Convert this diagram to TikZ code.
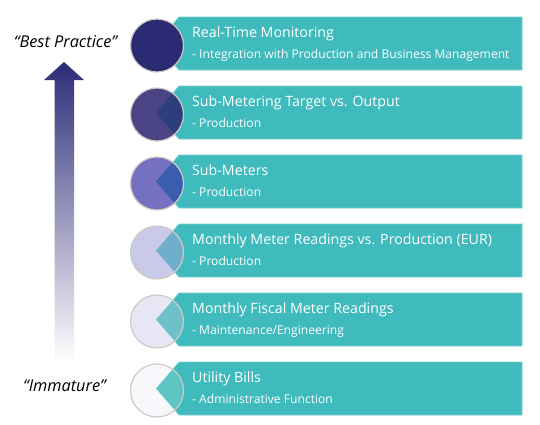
\documentclass[tikz,border=0pt]{standalone}
\usepackage{fontspec}
\setmainfont{Open Sans}
\definecolor{teal1}{HTML}{40BBBD}
\definecolor{tealedge}{HTML}{7ACFD0}
\definecolor{ringc}{HTML}{CFCAC4}
\definecolor{navy}{HTML}{2D2B77}
\definecolor{navymid}{HTML}{9694CD}
\definecolor{cA}{HTML}{2B2B73}\definecolor{oA}{HTML}{2B2B73}
\definecolor{cB}{HTML}{4A4484}\definecolor{oB}{HTML}{2D3E7D}
\definecolor{cC}{HTML}{7571C0}\definecolor{oC}{HTML}{3A5EAF}
\definecolor{cD}{HTML}{C9C9E9}\definecolor{oD}{HTML}{70AFCB}
\definecolor{cE}{HTML}{E6E6F5}\definecolor{oE}{HTML}{6EC0CA}
\definecolor{cF}{HTML}{F8F8FC}\definecolor{oF}{HTML}{5EC5C5}
\tikzset{
  bannerbox/.style={fill=teal1, draw=tealedge, line width=0.6pt},
  ring/.style={draw=ringc, line width=1.2pt},
  titletext/.style={anchor=base west, inner sep=0pt, text=white, font=\fontsize{14.2}{17}\selectfont},
  subtext/.style={anchor=base west, inner sep=0pt, text=white, font=\fontsize{12.1}{14}\selectfont},
  sidetext/.style={inner sep=0pt, font=\fontsize{16.3}{19}\selectfont\itshape}
}
\newcommand{\level}[6]{%
  % #1 top, #2 circle colour, #3 overlap colour, #4 title, #5 subtitle, #6 name
  \path[bannerbox] (522,#1) -- (179,#1) -- (156,#1+26.5) -- (179,#1+53) -- (522,#1+53) -- cycle;
  \coordinate (c#6) at (157,#1+28.5);
  \fill[#2] (c#6) circle[radius=26.5];
  \begin{scope}
    \clip (c#6) circle[radius=26.5];
    \fill[#3] (522,#1) -- (179,#1) -- (156,#1+26.5) -- (179,#1+53) -- (522,#1+53) -- cycle;
  \end{scope}
  \draw[ring] (c#6) circle[radius=26.5];
  \node[titletext] (t#6) at (192,#1+20) {#4};
  \node[subtext] (s#6) at (192,#1+41.5) {#5};
}
\begin{document}
\begin{tikzpicture}[x=1pt,y=-1pt]
\useasboundingbox (0,0) rectangle (540,424);
\fill[white] (0,0) rectangle (540,424);
% arrow
\shade[top color=navy, middle color=navymid, bottom color=white]
  (54.5,362) -- (54.5,80) -- (44,80) -- (64,62) -- (84,80) -- (74,80) -- (74,362) -- cycle;
\node[sidetext] (best) at (65.5,42) {“Best Practice”};
\node[sidetext] (imm) at (64.5,386) {“Immature”};
\level{17}{cA}{oA}{Real-Time Monitoring}{- Integration with Production and Business Management}{1}
\level{86}{cB}{oB}{Sub-Metering Target vs. Output}{- Production}{2}
\level{155}{cC}{oC}{Sub-Meters}{- Production}{3}
\level{224}{cD}{oD}{Monthly Meter Readings vs. Production (EUR)}{- Production}{4}
\level{293}{cE}{oE}{Monthly Fiscal Meter Readings}{- Maintenance/Engineering}{5}
\level{362}{cF}{oF}{Utility Bills}{- Administrative Function}{6}
\end{tikzpicture}
\end{document}
